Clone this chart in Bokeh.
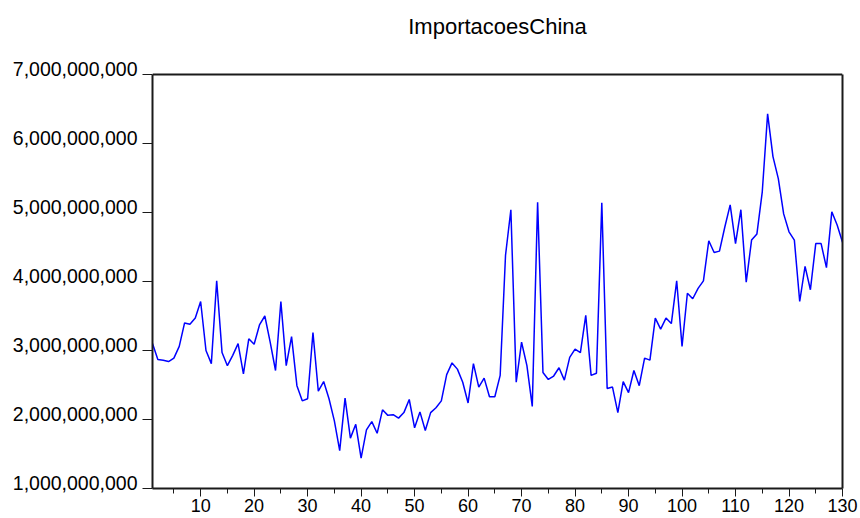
from bokeh.plotting import figure
from bokeh.models import Range1d, FixedTicker, LinearAxis, Span
from bokeh.embed import file_html
from bokeh.resources import INLINE

title_text = "ImportacoesChina"

# values in billions
values_bn = [
    3.10, 2.87, 2.86, 2.84, 2.89, 3.06, 3.40, 3.38, 3.47, 3.71,
    3.00, 2.81, 4.01, 2.97, 2.78, 2.93, 3.10, 2.66, 3.17, 3.09,
    3.37, 3.50, 3.12, 2.71, 3.71, 2.78, 3.20, 2.49, 2.27, 2.30,
    3.26, 2.41, 2.55, 2.30, 1.98, 1.55, 2.31, 1.73, 1.93, 1.44,
    1.85, 1.97, 1.80, 2.14, 2.06, 2.07, 2.02, 2.10, 2.29, 1.88,
    2.11, 1.84, 2.10, 2.17, 2.27, 2.65, 2.82, 2.73, 2.54, 2.24,
    2.81, 2.47, 2.60, 2.33, 2.33, 2.64, 4.38, 5.04, 2.54, 3.12,
    2.78, 2.19, 5.15, 2.68, 2.58, 2.63, 2.75, 2.57, 2.90, 3.02,
    2.97, 3.51, 2.64, 2.67, 5.14, 2.45, 2.47, 2.10, 2.55, 2.39,
    2.71, 2.49, 2.89, 2.86, 3.47, 3.31, 3.47, 3.39, 4.01, 3.06,
    3.83, 3.75, 3.90, 4.01, 4.59, 4.42, 4.44, 4.79, 5.11, 4.55,
    5.04, 3.99, 4.60, 4.69, 5.30, 6.43, 5.81, 5.49, 4.98, 4.72,
    4.60, 3.71, 4.22, 3.88, 4.55, 4.55, 4.20, 5.01, 4.82, 4.57,
]
obs = list(range(1, len(values_bn) + 1))
values = [v * 1e9 for v in values_bn]

x_major_ticks = [10, 20, 30, 40, 50, 60, 70, 80, 90, 100, 110, 120, 130]
x_minor_ticks = [5, 15, 25, 35, 45, 55, 65, 75, 85, 95, 105, 115, 125]
y_ticks = [1e9, 2e9, 3e9, 4e9, 5e9, 6e9, 7e9]
y_tick_labels = [f"{v:,.0f}" for v in y_ticks]

FONT = "Liberation Sans"
INK = "#1a1a1a"

Y0, Y1 = y_ticks[0], y_ticks[-1]
PX_PER_SPAN = 414.0                      # pixels from 1e9 to 7e9
unit = (Y1 - Y0) / PX_PER_SPAN           # value per pixel
label_shift = round(5.5 * unit)          # labels sit on their ticks by the baseline
top_pad = 6 * unit                       # room above the box for the top label

p = figure(width=858, height=518, output_backend="svg", toolbar_location=None,
           x_range=Range1d(1, 130), y_range=Range1d(Y0, Y1 + top_pad),
           min_border_left=152, min_border_right=16, min_border_top=68,
           min_border_bottom=30, title=title_text)

p.line(obs, values, line_color="#0000FF", line_width=1.5)

p.title.align = "center"
p.title.vertical_align = "bottom"
p.title.text_font = FONT
p.title.text_font_size = "22px"
p.title.text_font_style = "normal"
p.title.text_color = "#000000"
p.title.standoff = 0
p.title.padding = dict(top=0, right=0, bottom=30, left=0)

p.xgrid.visible = False
p.ygrid.visible = False
p.outline_line_color = None
p.background_fill_color = "white"
p.border_fill_color = "white"

# top edge of the box
p.add_layout(Span(location=Y1, dimension="width", line_color=INK, line_width=2))

xa = p.xaxis[0]
xa.ticker = FixedTicker(ticks=x_major_ticks, minor_ticks=x_minor_ticks)
xa.major_tick_out = 8
xa.major_tick_in = 0
xa.minor_tick_out = 5
xa.minor_tick_in = 0
xa.major_label_standoff = 2
xa.major_label_text_font = FONT
xa.major_label_text_font_size = "18px"
xa.major_label_text_color = "#000000"
xa.axis_line_width = 2
xa.axis_line_color = INK
xa.major_tick_line_color = INK
xa.minor_tick_line_color = INK

# left axis: ticks only
ya = p.yaxis[0]
ya.bounds = (Y0, Y1)
ya.ticker = FixedTicker(ticks=y_ticks, minor_ticks=[])
ya.major_tick_out = 10
ya.major_tick_in = 0
ya.minor_tick_out = 0
ya.minor_tick_in = 0
ya.major_label_standoff = 0
ya.major_label_overrides = {t: "" for t in y_ticks}
ya.axis_line_width = 2
ya.axis_line_color = INK
ya.major_tick_line_color = INK

# left labels: baseline on the tick
label_pos = [t + label_shift for t in y_ticks]
yl = LinearAxis(ticker=FixedTicker(ticks=label_pos, minor_ticks=[]),
                major_label_overrides={pos: lab for pos, lab in zip(label_pos, y_tick_labels)},
                major_tick_out=0, major_tick_in=0, minor_tick_out=0, minor_tick_in=0,
                major_label_standoff=5, axis_line_color=None,
                major_label_text_font=FONT, major_label_text_font_size="19.5px",
                major_label_text_color="#000000")
p.add_layout(yl, "left")

# right edge of the box
yr = LinearAxis(bounds=(Y0, Y1), ticker=FixedTicker(ticks=[], minor_ticks=[]),
                major_tick_out=0, major_tick_in=0, minor_tick_out=0, minor_tick_in=0,
                major_label_standoff=0, axis_line_width=2, axis_line_color=INK)
p.add_layout(yr, "right")

open("out.html", "w").write(file_html(p, INLINE))
